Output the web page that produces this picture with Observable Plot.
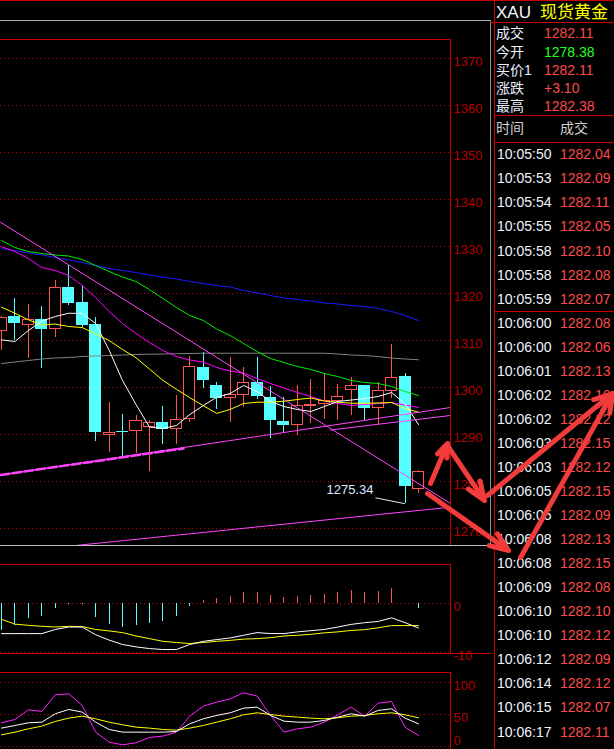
<!DOCTYPE html>
<html><head><meta charset="utf-8">
<script src="https://cdn.jsdelivr.net/npm/d3@7"></script>
<script src="https://cdn.jsdelivr.net/npm/@observablehq/plot@0.6"></script>
<style>
html,body{margin:0;padding:0;background:#000;}
#chart{position:relative;width:614px;height:749px;overflow:hidden;background:#000;font-family:"Liberation Sans",Arial,"Noto Sans CJK SC",sans-serif;}
#chart svg{position:absolute;left:0;top:0;}
.ln{position:absolute;}
.t{position:absolute;white-space:nowrap;}
</style></head><body><div id="chart"></div>
<script>
// ================= DATA =================
// candles (index 0..31), XAU
const open  = [1312.04,1315.02,1313.26,1314.47,1312.47,1321.34,1318.15,1313.26,1290.00,1290.70,1290.77,1291.62,1292.62,1291.28,1293.32,1304.26,1300.49,1297.87,1298.43,1301.06,1297.87,1292.83,1292.13,1296.17,1296.60,1297.09,1299.49,1300.28,1295.66,1299.28,1302.26,1278.38];
const high  = [1315.17,1319.00,1317.72,1317.30,1322.83,1326.02,1321.77,1314.89,1296.87,1294.32,1294.17,1293.04,1296.02,1298.36,1306.66,1307.57,1301.06,1306.38,1304.26,1306.38,1300.34,1297.87,1300.49,1301.77,1302.98,1300.70,1302.13,1300.49,1301.06,1309.21,1303.11,1282.38];
const low   = [1307.87,1310.06,1306.17,1304.17,1310.77,1317.45,1312.77,1288.57,1286.30,1285.11,1286.09,1282.20,1288.00,1288.00,1292.62,1299.79,1295.45,1292.55,1295.87,1297.45,1289.28,1290.21,1289.85,1292.47,1293.19,1293.04,1294.11,1293.04,1292.13,1297.66,1275.34,1277.45];
const close = [1314.81,1313.89,1314.47,1312.47,1321.28,1318.00,1313.32,1290.55,1290.49,1290.60,1292.98,1292.55,1291.28,1293.19,1304.53,1301.70,1297.79,1298.57,1301.06,1298.21,1293.11,1292.04,1296.17,1296.30,1297.15,1298.09,1300.28,1295.60,1299.36,1302.13,1279.06,1282.11];

// moving averages
const maWhite   = [1310.21,1309.85,1312.19,1314.21,1315.17,1315.87,1315.81,1313.68,1308.00,1301.55,1296.45,1291.66,1291.34,1291.98,1294.32,1296.23,1298.00,1298.79,1300.49,1299.21,1297.09,1296.02,1295.38,1294.96,1296.02,1297.09,1297.40,1297.72,1298.15,1299.00,1296.60,1292.19];
const maYellow  = [1317.15,1315.87,1314.47,1313.36,1313.57,1313.04,1312.83,1311.45,1310.06,1308.15,1306.40,1304.00,1301.60,1299.70,1297.90,1296.20,1294.55,1295.40,1296.66,1296.94,1296.94,1297.15,1297.51,1297.83,1297.19,1296.94,1296.72,1296.72,1296.77,1296.87,1295.60,1294.81];
const maMagenta = [1330.00,1329.00,1327.50,1325.60,1324.96,1323.90,1321.77,1319.21,1316.23,1313.68,1311.55,1309.64,1307.94,1306.66,1305.91,1305.49,1304.32,1303.57,1303.15,1301.98,1300.91,1299.96,1299.00,1298.15,1297.19,1296.66,1296.23,1296.45,1296.66,1296.87,1296.34,1295.81];
const maGreen   = [1331.34,1329.85,1329.00,1328.57,1328.26,1328.04,1327.30,1326.02,1324.74,1323.57,1322.62,1320.91,1319.00,1317.09,1315.38,1314.32,1312.50,1311.13,1309.43,1307.72,1306.23,1305.38,1304.53,1303.90,1303.04,1302.40,1301.55,1301.13,1300.91,1300.28,1299.21,1298.36];
const maBlue    = [1329.57,1329.21,1328.68,1328.26,1327.72,1327.19,1326.66,1326.02,1325.38,1324.96,1324.53,1324.00,1323.57,1323.15,1322.62,1322.19,1321.77,1321.45,1320.70,1320.17,1319.64,1319.11,1318.79,1318.47,1318.04,1317.83,1317.51,1317.30,1316.87,1316.23,1315.38,1314.32];
const maGray    = [1305.17,1305.49,1305.81,1306.13,1306.34,1306.45,1306.66,1306.77,1306.87,1306.98,1307.09,1307.15,1307.19,1307.25,1307.30,1307.36,1307.36,1307.36,1307.36,1307.36,1307.36,1307.36,1307.36,1307.36,1307.36,1307.19,1306.98,1306.87,1306.66,1306.34,1306.13,1305.96];

const priceTicks = [1270,1280,1290,1300,1310,1320,1330,1340,1350,1360,1370];

// hand-drawn trend lines, in (candle index, price)
const trendDown  = [{i:-0.074,p:1335.23},{i:33.38,p:1275.38}];
const trendA     = [{i:-0.074,p:1281.45},{i:33.38,p:1295.81}];
const trendAThick= [{i:-0.074,p:1281.45},{i:13.53,p:1287.10}];
const trendB     = [{i:24.46,p:1291.02},{i:33.38,p:1294.11}];
const trendC     = [{i:5.5,p:1266.45},{i:33.38,p:1274.60}];

// low marker
const lowNote = [{i:30,p:1275.34,li:27.8,lp:1276.6,text:"1275.34"}];

// red annotation arrows, in (candle index, price)
const arrowsData = [
  {x1:31.90,y1:1279.64,x2:33.16,y2:1288.15},
  {x1:33.16,y1:1287.72,x2:35.91,y2:1276.02},
  {x1:36.13,y1:1277.09,x2:45.43,y2:1298.79},
  {x1:31.67,y1:1277.51,x2:37.70,y2:1265.38},
  {x1:38.59,y1:1263.89,x2:45.43,y2:1298.79}
];

// MACD
const macdHist = [-5.52,-4.48,-3.10,-2.56,-0.91,-0.14,-0.14,-2.77,-4.28,-4.83,-4.48,-4.01,-3.66,-2.56,-0.50,0.68,1.16,1.51,2.33,2.33,1.71,1.30,1.51,1.71,1.92,2.33,2.75,2.33,2.54,3.16,0.10,-0.91];
const macdDif  = [-6.16,-6.16,-6.16,-6.16,-5.30,-4.80,-4.80,-6.40,-7.50,-8.40,-8.90,-9.25,-9.45,-9.45,-8.40,-7.75,-7.40,-7.05,-6.50,-5.95,-6.15,-6.15,-5.80,-5.55,-5.30,-4.80,-4.25,-3.90,-3.65,-2.90,-3.90,-5.00];
const macdDea  = [-3.20,-4.20,-4.45,-4.65,-4.80,-4.65,-4.70,-5.30,-5.60,-5.95,-6.65,-7.20,-7.75,-8.00,-8.20,-8.00,-7.75,-7.55,-7.30,-7.20,-7.00,-6.65,-6.50,-6.30,-6.00,-5.80,-5.50,-5.35,-4.95,-4.50,-4.50,-4.50];
const macdTicks = [0,-10];

// KDJ
const kdjK = [29.2,33.3,37.5,38.5,51.6,58.3,54.2,38.5,27.1,22.9,22.9,22.9,22.9,24.0,35.9,43.75,49.0,53.1,60.4,62.0,49.0,40.1,38.5,38.5,41.1,46.4,51.6,47.9,56.8,59.4,44.8,35.9];
const kdjD = [18.75,22.9,28.1,32.3,39.6,44.8,47.9,43.75,38.5,34.4,30.7,29.2,27.1,26.0,29.2,33.3,38.5,43.75,50.0,53.1,50.5,47.9,46.4,44.8,43.75,45.3,47.9,49.0,51.6,53.1,50.0,45.3];
const kdjJ = [37.5,42.7,57.8,55.2,81.3,82.8,64.6,22.9,7.3,3.1,6.25,14.6,16.7,22.9,47.9,63.5,69.8,75.0,84.4,79.2,49.0,22.9,28.1,30.7,38.5,50.0,62.0,47.9,68.2,70.8,30.7,17.7];
const kdjTicks = [0,50,100];

// quote panel
const quoteSymbol = "XAU";
const quoteName = "现货黄金";
const quoteLabels = ["成交","今开","买价1","涨跌","最高"];
const quoteValues = ["1282.11","1278.38","1282.11","+3.10","1282.38"];
const tickHeader = ["时间","成交"];
const tickTimes = ["10:05:50","10:05:53","10:05:54","10:05:55","10:05:58","10:05:58","10:05:59","10:06:00","10:06:00","10:06:01","10:06:02","10:06:02","10:06:03","10:06:03","10:06:05","10:06:05","10:06:08","10:06:08","10:06:09","10:06:10","10:06:10","10:06:12","10:06:14","10:06:15","10:06:17"];
const tickPrices = ["1282.04","1282.09","1282.11","1282.05","1282.10","1282.08","1282.07","1282.08","1282.06","1282.13","1282.16","1282.12","1282.15","1282.12","1282.15","1282.09","1282.13","1282.15","1282.08","1282.10","1282.12","1282.09","1282.12","1282.07","1282.11"];

// ================= STYLE / LAYOUT =================
const W = 614, H = 749, PLOT_RIGHT = 450;
const UP = "#ff5454", DOWN = "#55ffff", GRID = "#c00000", AXIS = "#b40000", FRAME = "#c80000";
const ARROW = "#f23c3c";
const X_DOMAIN = [-0.074, 33.38];
const FONT = "'Liberation Sans', Arial, sans-serif";

const root = document.getElementById("chart");
function line(x, y, w, h, color) {
  const d = document.createElement("div");
  d.className = "ln";
  Object.assign(d.style, {left: x + "px", top: y + "px", width: w + "px", height: h + "px", background: color});
  root.appendChild(d);
}
function text(str, left, cy, size, color, fam) {
  const d = document.createElement("div");
  d.className = "t";
  d.textContent = str;
  const lh = Math.round(size * 1.25);
  Object.assign(d.style, {left: left + "px", top: (cy - lh / 2) + "px", fontSize: size + "px", lineHeight: lh + "px", color: color, fontFamily: fam || FONT});
  root.appendChild(d);
}

// panel borders
line(0, 0, W, 1, FRAME);
line(0, 20, 491, 1, "#a8a8a8");
line(490, 20, 1, 525, "#909090");
line(0, 545, 491, 1, "#c0c0c0");
line(494, 0, 1, H, FRAME);
line(490, 22, 124, 1, FRAME);
line(494, 115, 120, 1, FRAME);
line(494, 142, 120, 1, FRAME);
line(0, 39, 451, 1, FRAME); line(450, 39, 1, 506, FRAME);
line(0, 564, 451, 1, FRAME); line(450, 564, 1, 90, FRAME); line(0, 653, 491, 1, FRAME);
line(0, 672, 451, 1, FRAME); line(450, 672, 1, 77, FRAME);

// quote panel text
const CJK = "'Liberation Sans', 'Noto Sans CJK SC', sans-serif";
text(quoteSymbol, 496, 12.5, 17, "#f4f8ff");
text(quoteName, 540, 12.5, 17, "#ffff00", CJK);
quoteLabels.forEach((lab, k) => {
  const cy = 33.3 + 18.2 * k;
  text(lab, 496, cy, 14, "#e8f0ff", CJK);
  text(quoteValues[k], 544, cy, 14, lab === "今开" ? "#22ff22" : "#ff4a4a");
});
text(tickHeader[0], 496, 128, 14, "#d0d0d0", CJK);
text(tickHeader[1], 560, 128, 14, "#d0d0d0", CJK);
tickTimes.forEach((t, k) => {
  const cy = 154.3 + 24.05 * k;
  text(t, 497, cy, 14, "#eef6ff");
  text(tickPrices[k], 560, cy, 14, "#ff4a4a");
  if (k > 0 && t.slice(0, 5) !== tickTimes[k - 1].slice(0, 5)) line(494, Math.round(cy - 12), 120, 1, FRAME);
});

const svgStyle = {background: "transparent", overflow: "visible", position: "absolute", left: "0px", top: "0px", fontFamily: FONT};
const base = {width: W, height: H, marginLeft: 0, marginRight: W - PLOT_RIGHT, x: {domain: X_DOMAIN, axis: null}, style: svgStyle};
const idx = (d, i) => i;
const val = d => d;
const labelMark = (ticks, extra) => Plot.text(ticks, {y: val, text: d => String(d), frameAnchor: "right", textAnchor: "start", dx: 3, dy: 3.5, fill: AXIS, fontSize: 13, ...extra});
const dotted = (ticks) => Plot.ruleY(ticks, {y: val, stroke: GRID, strokeDasharray: "1,3", shapeRendering: "crispEdges"});

// ---------- MACD ----------
const macdRows = macdHist.map((v, i) => ({i, v}));
root.appendChild(Plot.plot({
  ...base, marginTop: 564.3, marginBottom: H - 653.3,
  y: {domain: [-10.33, 8.06], axis: null},
  marks: [
    dotted(macdTicks),
    Plot.ruleX(macdRows, {x: "i", y1: 0, y2: "v", stroke: d => d.v < 0 ? DOWN : UP, shapeRendering: "crispEdges"}),
    Plot.line(macdDea, {x: idx, y: val, stroke: "#ffff00", strokeWidth: 1}),
    Plot.line(macdDif, {x: idx, y: val, stroke: "#ffffff", strokeWidth: 1}),
    labelMark(macdTicks)
  ]
}));

// ---------- KDJ ----------
root.appendChild(Plot.plot({
  ...base, marginTop: 672.3, marginBottom: 0,
  y: {domain: [-4.2, 115.6], axis: null},
  marks: [
    dotted(kdjTicks),
    Plot.line(kdjJ, {x: idx, y: val, stroke: "#ff22ff", strokeWidth: 1}),
    Plot.line(kdjD, {x: idx, y: val, stroke: "#ffff00", strokeWidth: 1}),
    Plot.line(kdjK, {x: idx, y: val, stroke: "#ffffff", strokeWidth: 1}),
    labelMark(kdjTicks.filter(d => d > 0)),
    labelMark(kdjTicks.filter(d => d === 0), {lineAnchor: "bottom", dy: -2})
  ]
}));

// ---------- MAIN PRICE ----------
const candles = open.map((o, i) => ({i, open: o, high: high[i], low: low[i], close: close[i], up: close[i] >= o}));
const maLine = (arr, color) => Plot.line(arr, {x: idx, y: val, stroke: color, strokeWidth: 1, clip: true});
const trend = (arr, color, extra) => Plot.line(arr, {x: "i", y: "p", stroke: color, strokeWidth: 1, clip: true, ...extra});
root.appendChild(Plot.plot({
  ...base, marginTop: 39, marginBottom: H - 545,
  y: {domain: [1266.45, 1374.11], axis: null},
  marks: [
    dotted(priceTicks),
    Plot.ruleX(candles, {x: "i", y1: "low", y2: "high", stroke: d => d.up ? UP : DOWN, shapeRendering: "crispEdges"}),
    Plot.rect(candles, {x1: d => d.i - 0.41, x2: d => d.i + 0.41, y1: "open", y2: "close", fill: d => d.up ? "#000000" : DOWN, stroke: d => d.up ? UP : DOWN, strokeWidth: 1, shapeRendering: "crispEdges"}),
    maLine(maGray, "#808080"),
    maLine(maBlue, "#1a1aff"),
    maLine(maGreen, "#00ee00"),
    maLine(maMagenta, "#ff00ff"),
    maLine(maYellow, "#ffff00"),
    maLine(maWhite, "#ffffff"),
    trend(trendDown, "#ff44ff"),
    trend(trendA, "#ff44ff"),
    trend(trendAThick, "#ff44ff", {strokeWidth: 2.5, strokeDasharray: "9,3"}),
    trend(trendB, "#ff44ff"),
    trend(trendC, "#ff44ff"),
    Plot.link(lowNote, {x1: "li", y1: "lp", x2: "i", y2: "p", stroke: "#e8e8e8", strokeWidth: 1}),
    Plot.text(lowNote, {x: "li", y: "lp", text: "text", textAnchor: "end", dx: -2, dy: -8, fill: "#dce8ff", fontSize: 13}),
    labelMark(priceTicks),
    Plot.arrow(arrowsData, {x1: "x1", y1: "y1", x2: "x2", y2: "y2", stroke: ARROW, strokeWidth: 5, headLength: 6, headAngle: 42, strokeLinejoin: "miter"})
  ]
}));
</script></body></html>
